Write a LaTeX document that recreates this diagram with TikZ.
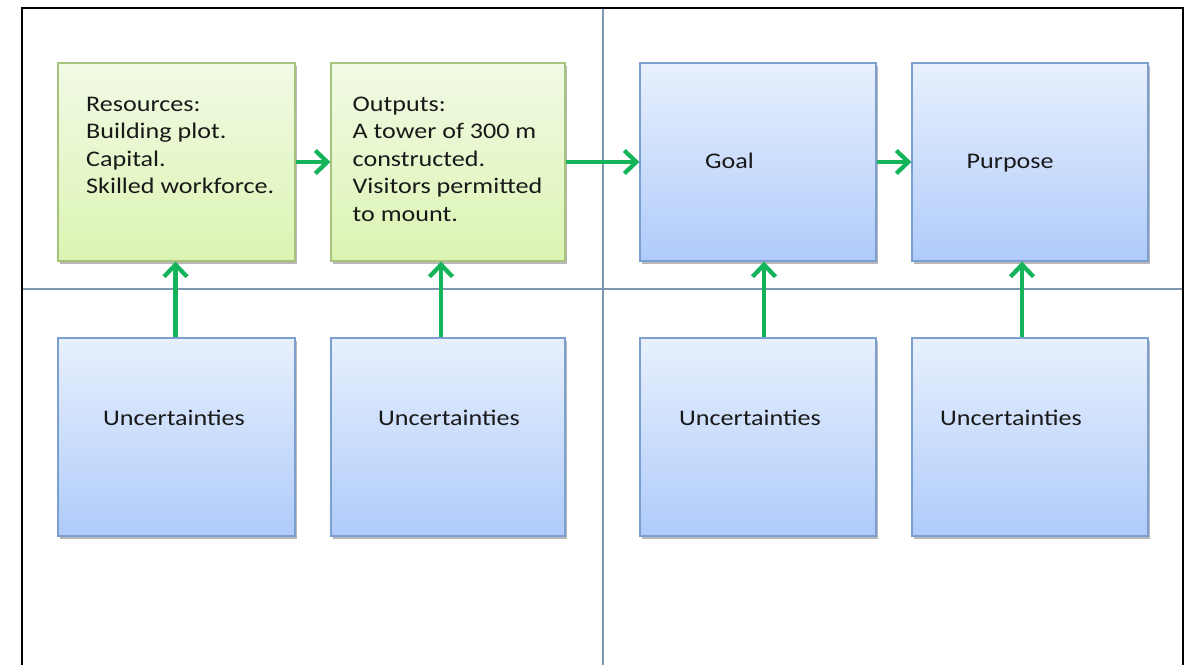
\documentclass[tikz,border=0pt]{standalone}
\usepackage{fontspec}
\setmainfont{Carlito}
\newfontfamily\boxfont[FakeStretch=1.17]{Carlito}
\usetikzlibrary{arrows.meta,shadows}

\definecolor{greentop}{HTML}{F1FAE5}
\definecolor{greenbot}{HTML}{DCF4B2}
\definecolor{greenedge}{HTML}{A6C27C}
\definecolor{bluetop}{HTML}{E8F0FD}
\definecolor{bluebot}{HTML}{AFCBFA}
\definecolor{blueedge}{HTML}{7BA0D0}
\definecolor{flowgreen}{HTML}{16B45A}
\definecolor{gridline}{HTML}{7F97AE}

\tikzset{
  card/.style={rectangle, inner sep=0pt, line width=1.2pt,
    drop shadow={shadow xshift=2pt, shadow yshift=-3pt, fill=black, opacity=0.28}},
  greencard/.style={card, draw=greenedge, top color=greentop, bottom color=greenbot},
  bluecard/.style={card, draw=blueedge, top color=bluetop, bottom color=bluebot},
  label/.style={inner sep=0pt, text=black!90, align=left,
    font=\boxfont\fontsize{22.3}{27.5}\selectfont},
  flow/.style={draw=flowgreen, line width=4.3pt,
    -{Straight Barb[length=12pt, width=23pt, line width=4.3pt]}},
  frame/.style={draw=black, line width=2.3pt},
  divider/.style={draw=gridline, line width=1.8pt}
}

\begin{document}
\begin{tikzpicture}[x=1pt, y=-1pt]
  \useasboundingbox (0,0) rectangle (1190,665);
  \fill[white] (0,0) rectangle (1190,665);

  % quadrant dividers and outer frame
  \draw[divider] (603,8) -- (603,665);
  \draw[divider] (22,289) -- (1183,289);
  \draw[frame] (22,665) -- (22,8) -- (1183,8) -- (1183,665);

  % upper row: the results chain
  \node[greencard, minimum width=237pt, minimum height=198pt] (res) at (176.5,162) {};
  \node[greencard, minimum width=234pt, minimum height=198pt] (out) at (448,162) {};
  \node[bluecard,  minimum width=236pt, minimum height=198pt] (goal) at (758,162) {};
  \node[bluecard,  minimum width=236pt, minimum height=198pt] (purp) at (1030,162) {};

  % lower row: uncertainties
  \node[bluecard, minimum width=237pt, minimum height=198pt] (u1) at (176.5,437) {};
  \node[bluecard, minimum width=234pt, minimum height=198pt] (u2) at (448,437) {};
  \node[bluecard, minimum width=236pt, minimum height=198pt] (u3) at (758,437) {};
  \node[bluecard, minimum width=236pt, minimum height=198pt] (u4) at (1030,437) {};

  % box texts
  \node[label, anchor=north west] (tres) at (86,96.5)
    {Resources:\\Building plot.\\Capital.\\Skilled workforce.};
  \node[label, anchor=north west] (tout) at (352.5,96.5)
    {Outputs:\\A tower of 300 m\\constructed.\\Visitors permitted\\to mount.};
  \node[label, anchor=base west] (tgoal) at (705,168) {Goal};
  \node[label, anchor=base west] (tpurp) at (966.5,168) {Purpose};
  \node[label, anchor=base west] (tu1) at (103,425) {Uncertainties};
  \node[label, anchor=base west] (tu2) at (378,425) {Uncertainties};
  \node[label, anchor=base west] (tu3) at (679,425) {Uncertainties};
  \node[label, anchor=base west] (tu4) at (940,425) {Uncertainties};

  % flow along the chain
  \draw[flow] (res.east) -- (out.west);
  \draw[flow] (out.east) -- (goal.west);
  \draw[flow] (goal.east) -- (purp.west);

  % uncertainties acting on each level
  \draw[flow] ([xshift=-1pt]u1.north) -- ([xshift=-1pt]res.south);
  \draw[flow] ([xshift=-7pt]u2.north) -- ([xshift=-7pt]out.south);
  \draw[flow] ([xshift=6pt]u3.north) -- ([xshift=6pt]goal.south);
  \draw[flow] ([xshift=-8pt]u4.north) -- ([xshift=-8pt]purp.south);
\end{tikzpicture}
\end{document}
